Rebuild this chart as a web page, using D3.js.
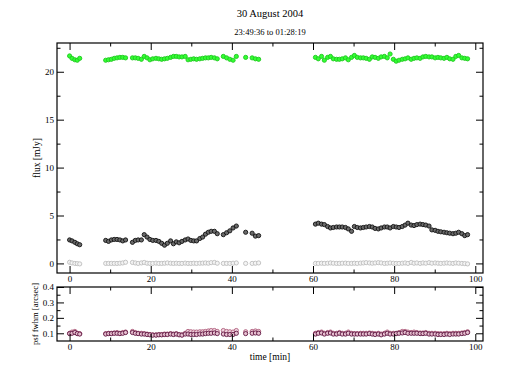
<!DOCTYPE html>
<html>
<head>
<meta charset="utf-8">
<script src="https://cdn.jsdelivr.net/npm/d3@7"></script>
<style>
  body { margin: 0; background: #fff; }
  svg { font-family: "Liberation Serif", "DejaVu Serif", serif; }
</style>
</head>
<body>
<div id="chart"></div>
<script>
// observation times [min]
var time = [
  0.0, 0.6, 1.3, 1.9, 2.5,
  8.9, 9.6, 10.3, 11.0, 11.7, 12.4, 13.1, 13.8,
  15.5, 16.2, 16.9, 17.7, 18.4, 19.1, 19.8, 20.5, 21.3, 22.0, 22.7, 23.4, 24.1, 24.9, 25.6,
  26.3, 27.0, 27.7, 28.5, 29.2, 29.9, 30.6, 31.3, 32.1, 32.8, 33.5, 34.2, 34.9, 35.7, 36.4,
  37.9, 38.7, 39.5, 40.3, 41.1,
  43.4,
  45.0, 45.8, 46.6,
  60.6, 61.3, 62.1, 62.8, 63.6, 64.3, 65.0, 65.8, 66.5, 67.2, 68.0, 68.7, 69.5, 70.2, 70.9,
  71.7, 72.4, 73.1, 73.9, 74.6, 75.3, 76.1, 76.8, 77.6, 78.3, 79.0, 79.8, 80.5, 81.2, 82.0,
  82.7, 83.4, 84.2, 84.9, 85.6, 86.4, 87.1, 87.8, 88.6, 89.3, 90.1, 90.8, 91.5, 92.3, 93.0,
  93.7, 94.5, 95.2, 95.9, 96.7, 97.4, 98.1
];

// flux [mJy]
var fluxGreen = [
  21.65, 21.4, 21.25, 21.2, 21.4,
  21.2, 21.25, 21.3, 21.4, 21.45, 21.5, 21.5, 21.45,
  21.45, 21.45, 21.4, 21.3, 21.6, 21.45, 21.25, 21.35, 21.4, 21.35, 21.3, 21.35, 21.4, 21.5, 21.6,
  21.6, 21.55, 21.55, 21.6, 21.25, 21.3, 21.35, 21.3, 21.35, 21.4, 21.45, 21.45, 21.5, 21.45, 21.35,
  21.6, 21.45, 21.3, 21.2, 21.6,
  21.5,
  21.45, 21.35, 21.3,
  21.5, 21.35, 21.6, 21.2, 21.5, 21.6, 21.35, 21.3, 21.3, 21.35, 21.45, 21.25, 21.5, 21.7, 21.5,
  21.45, 21.45, 21.4, 21.3, 21.55, 21.5, 21.4, 21.55, 21.6, 21.45, 21.85, 21.3, 21.1, 21.2, 21.3,
  21.35, 21.45, 21.3, 21.4, 21.45, 21.4, 21.55, 21.6, 21.55, 21.55, 21.45, 21.5, 21.45, 21.4, 21.5,
  21.35, 21.3, 21.6, 21.7, 21.45, 21.4, 21.35
];

var fluxBlack = [
  2.45, 2.35, 2.2, 2.05, 1.95,
  2.4, 2.3, 2.45, 2.5, 2.5, 2.45, 2.35, 2.45,
  2.2, 2.4, 2.45, 2.45, 3.0, 2.75, 2.5, 2.4, 2.4, 2.3, 2.1, 1.9, 2.1, 2.35, 2.05,
  2.25, 2.15, 2.3, 2.45, 2.55, 2.4, 2.35, 2.35, 2.6, 2.75, 3.05, 3.25, 3.35, 3.35, 3.1,
  3.0, 3.2, 3.4, 3.7, 3.9,
  3.25,
  3.15, 2.85, 2.9,
  4.1, 4.2, 4.1, 4.05, 3.85, 3.7, 3.75, 3.8, 3.8, 3.8, 3.75, 3.6, 3.35, 3.85, 3.75,
  3.7, 3.75, 3.8, 3.85, 3.8, 3.65, 3.6, 3.7, 3.8, 3.8, 3.7, 3.85, 3.8, 3.75, 3.85,
  4.0, 4.2, 4.0, 3.95, 4.05, 4.1, 4.05, 4.0, 3.9, 3.5, 3.45, 3.35, 3.3, 3.25, 3.2,
  3.15, 3.1, 3.15, 3.25, 3.1, 2.9, 3.0
];

var fluxGray = [
  0.12, 0.05, 0.0, -0.02, -0.05,
  0.0, 0.0, 0.0, 0.0, 0.0, 0.02, 0.05, 0.12,
  0.1, 0.05, 0.0, 0.05, 0.1, 0.02, 0.0, 0.0, 0.03, 0.0, 0.0, 0.02, 0.05, 0.02, 0.0,
  0.02, 0.0, 0.0, 0.03, 0.0, 0.0, 0.02, 0.0, 0.02, 0.03, 0.05, 0.02, 0.08, 0.1, 0.02,
  0.0, 0.0, 0.0, 0.02, 0.05,
  0.0,
  0.0, 0.02, 0.05,
  0.0, 0.0, 0.02, 0.0, 0.02, 0.05, 0.02, 0.0, 0.0, 0.02, 0.03, 0.0, 0.0, 0.02, 0.0,
  0.03, 0.05, 0.08, 0.05, 0.02, 0.05, 0.08, 0.05, 0.0, 0.02, 0.05, 0.02, 0.0, 0.0, 0.02,
  0.05, 0.0, 0.1, 0.02, 0.05, 0.0, 0.05, 0.02, 0.08, 0.02, 0.05, 0.02, 0.0, 0.02, 0.05,
  0.02, 0.0, 0.05, 0.02, 0.0, -0.02, -0.05
];

// psf fwhm [arcsec]
var psfUpper = [
  0.1, 0.108, 0.112, 0.1, 0.098,
  0.098, 0.1, 0.1, 0.102, 0.105, 0.1, 0.105, 0.108,
  0.112, 0.105, 0.1, 0.1, 0.098, 0.095, 0.092, 0.09, 0.09, 0.092, 0.092, 0.095, 0.095, 0.098, 0.095,
  0.098, 0.092, 0.09, 0.1, 0.112, 0.11, 0.108, 0.108, 0.11, 0.11, 0.112, 0.115, 0.118, 0.118, 0.112,
  0.118, 0.112, 0.11, 0.108, 0.118,
  0.11,
  0.112, 0.115, 0.112,
  0.1, 0.105, 0.108, 0.1, 0.105, 0.108, 0.1, 0.1, 0.105, 0.1, 0.1, 0.108, 0.1, 0.098, 0.098,
  0.1, 0.1, 0.1, 0.102, 0.1, 0.098, 0.1, 0.095, 0.1, 0.108, 0.1, 0.1, 0.1, 0.105, 0.112,
  0.112, 0.108, 0.105, 0.108, 0.105, 0.102, 0.102, 0.105, 0.1, 0.1, 0.1, 0.098, 0.098, 0.098, 0.1,
  0.098, 0.1, 0.1, 0.1, 0.102, 0.105, 0.11
];

var psfLower = [
  0.098, 0.1, 0.105, 0.098, 0.095,
  0.095, 0.098, 0.098, 0.1, 0.1, 0.098, 0.1, 0.105,
  0.105, 0.1, 0.098, 0.095, 0.095, 0.092, 0.09, 0.088, 0.088, 0.09, 0.09, 0.092, 0.092, 0.095, 0.092,
  0.095, 0.09, 0.088, 0.095, 0.095, 0.092, 0.092, 0.092, 0.095, 0.095, 0.098, 0.1, 0.1, 0.102, 0.098,
  0.095, 0.092, 0.092, 0.092, 0.1,
  0.098,
  0.1, 0.102, 0.1,
  0.095, 0.1, 0.102, 0.095, 0.1, 0.102, 0.095, 0.095, 0.1, 0.095, 0.095, 0.1, 0.095, 0.095, 0.095,
  0.095, 0.095, 0.095, 0.098, 0.095, 0.092, 0.095, 0.09, 0.095, 0.1, 0.095, 0.095, 0.098, 0.1, 0.102,
  0.105, 0.1, 0.1, 0.1, 0.1, 0.098, 0.098, 0.1, 0.095, 0.095, 0.095, 0.092, 0.092, 0.092, 0.095,
  0.092, 0.095, 0.095, 0.095, 0.098, 0.1, 0.105
];

var xMajor = [0, 20, 40, 60, 80, 100];
var xMinor = [10, 30, 50, 70, 90];
var fluxMajor = [0, 5, 10, 15, 20];
var fluxMinor = [2.5, 7.5, 12.5, 17.5, 22.5];
var psfMajor = [0.1, 0.2, 0.3, 0.4];
var psfMinor = [0.15, 0.25, 0.35];

var svgWidth = 508, svgHeight = 392;

var svg = d3.select("#chart")
    .append("svg")
    .attr("width", svgWidth)
    .attr("height", svgHeight);

var left = 57, right = 483;
var top1 = 43, bottom1 = 273;
var top2 = 287, bottom2 = 341;

var xScale = d3.scaleLinear().domain([-3.1, 101.9]).range([left, right]);
var yFlux = d3.scaleLinear().domain([-1, 23]).range([bottom1, top1]);
var yPsf = d3.scaleLinear().domain([0.05, 0.4]).range([bottom2, top2]);

// titles
svg.append("text")
    .attr("x", 270).attr("y", 17)
    .attr("text-anchor", "middle")
    .style("font-size", "10.5px")
    .text("30 August 2004");

svg.append("text")
    .attr("x", 270).attr("y", 34.5)
    .attr("text-anchor", "middle")
    .style("font-size", "8.5px")
    .text("23:49:36 to 01:28:19");

// draw inward ticks on all four sides of a panel
function drawFrame(yScale, yMaj, yMin, yFmt, top, bottom) {
    var g = svg.append("g");

    function addAxis(axis, transform, vals, size, fmt) {
        var a = g.append("g")
            .attr("transform", transform)
            .call(axis.tickValues(vals).tickSize(size).tickSizeOuter(0)
                .tickPadding(3).tickFormat(fmt));
        a.select(".domain").remove();
        a.selectAll("line").attr("stroke", "#000");
        a.selectAll("text")
            .style("font-size", "9px")
            .style("font-family", "Liberation Serif, serif")
            .attr("fill", "#000");
        return a;
    }

    var none = function () { return ""; };

    // bottom
    addAxis(d3.axisBottom(xScale), `translate(0,${bottom})`, xMajor, -7, d3.format("d"));
    addAxis(d3.axisBottom(xScale), `translate(0,${bottom})`, xMinor, -3.5, none);
    // top
    addAxis(d3.axisTop(xScale), `translate(0,${top})`, xMajor, -7, none);
    addAxis(d3.axisTop(xScale), `translate(0,${top})`, xMinor, -3.5, none);
    // left
    addAxis(d3.axisLeft(yScale), `translate(${left},0)`, yMaj, -7, yFmt);
    addAxis(d3.axisLeft(yScale), `translate(${left},0)`, yMin, -3.5, none);
    // right
    addAxis(d3.axisRight(yScale), `translate(${right},0)`, yMaj, -7, none);
    addAxis(d3.axisRight(yScale), `translate(${right},0)`, yMin, -3.5, none);

    g.append("rect")
        .attr("x", left).attr("y", top)
        .attr("width", right - left).attr("height", bottom - top)
        .attr("fill", "none")
        .attr("stroke", "#000")
        .attr("stroke-width", 1.2);
    return g;
}

svg.append("clipPath").attr("id", "clip1")
    .append("rect").attr("x", left).attr("y", top1)
    .attr("width", right - left).attr("height", bottom1 - top1);
svg.append("clipPath").attr("id", "clip2")
    .append("rect").attr("x", left).attr("y", top2)
    .attr("width", right - left).attr("height", bottom2 - top2);

// points
function plotSeries(yScale, values, fill, stroke, clip) {
    svg.append("g")
        .attr("clip-path", `url(#${clip})`)
        .selectAll("circle")
        .data(values)
        .enter()
        .append("circle")
        .attr("cx", (d, i) => xScale(time[i]))
        .attr("cy", d => yScale(d))
        .attr("r", 2.1)
        .attr("fill", fill)
        .attr("stroke", stroke)
        .attr("stroke-width", 0.9);
}

plotSeries(yFlux, fluxGray, "#f4f4f4", "#bdbdbd", "clip1");
plotSeries(yFlux, fluxBlack, "#6a6a6a", "#111", "clip1");
plotSeries(yFlux, fluxGreen, "#33ff33", "#1fc81f", "clip1");

plotSeries(yPsf, psfUpper, "#f0d4df", "#b0607e", "clip2");
plotSeries(yPsf, psfLower, "#e6bfcf", "#5e1440", "clip2");

drawFrame(yFlux, fluxMajor, fluxMinor, d3.format("d"), top1, bottom1);
drawFrame(yPsf, psfMajor, psfMinor, d3.format(".1f"), top2, bottom2);

// axis labels
svg.append("text")
    .attr("transform", `translate(40,${(top1 + bottom1) / 2}) rotate(-90)`)
    .attr("text-anchor", "middle")
    .style("font-size", "9.5px")
    .text("flux [mJy]");

svg.append("text")
    .attr("transform", `translate(38,${(top2 + bottom2) / 2}) rotate(-90)`)
    .attr("text-anchor", "middle")
    .style("font-size", "8.6px")
    .text("psf fwhm [arcsec]");

svg.append("text")
    .attr("x", 270).attr("y", 360)
    .attr("text-anchor", "middle")
    .style("font-size", "9.5px")
    .text("time [min]");
</script>
</body>
</html>
